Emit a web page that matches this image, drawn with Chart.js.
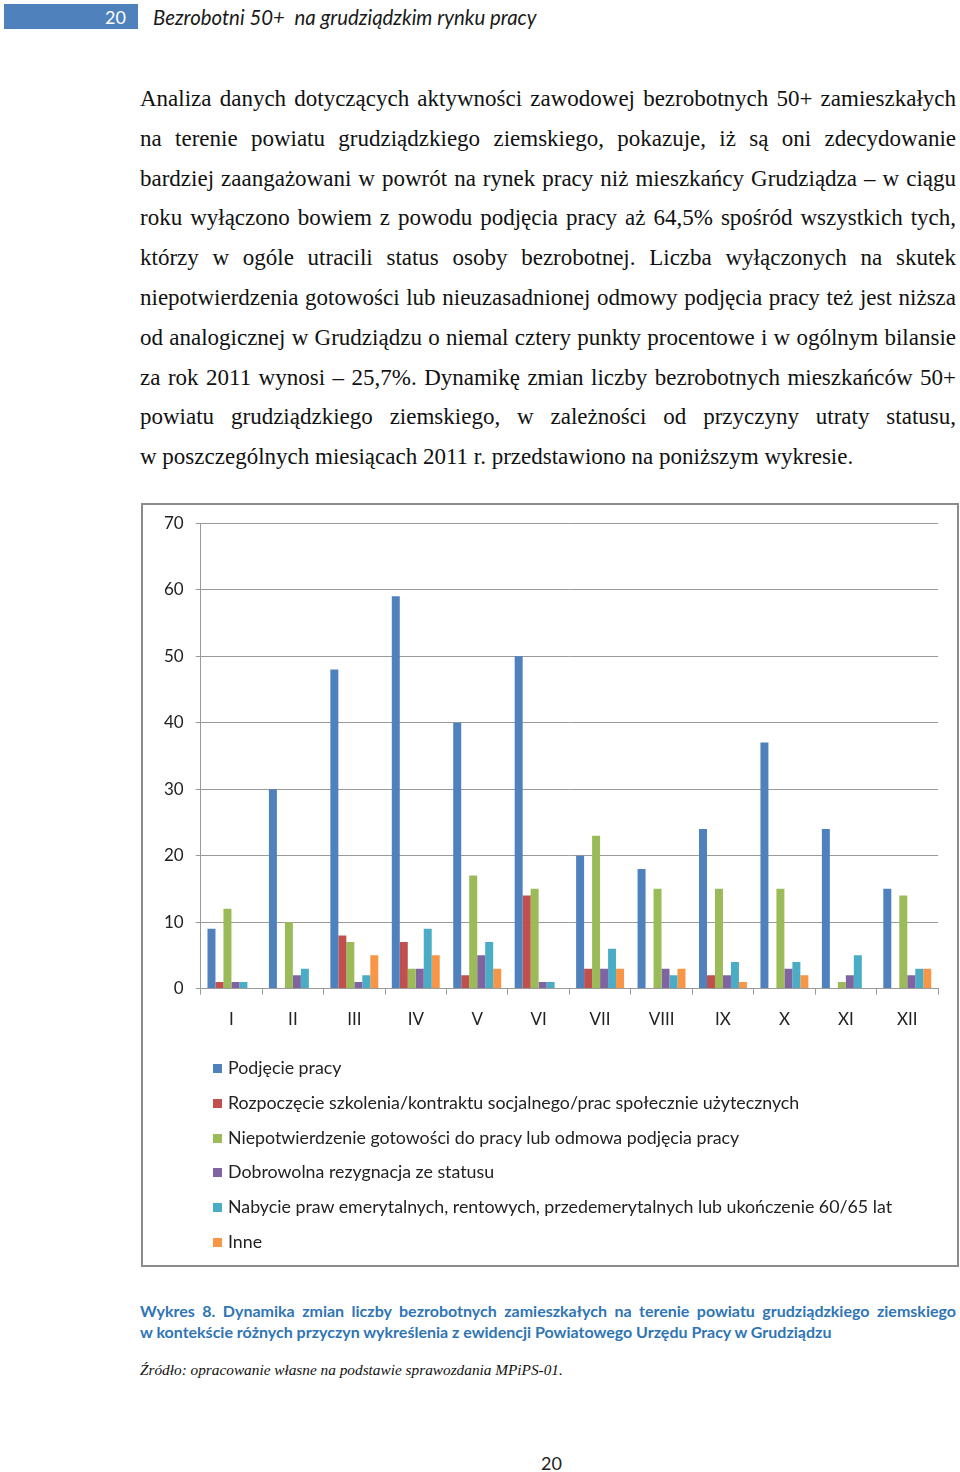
<!DOCTYPE html>
<html lang="pl">
<head>
<meta charset="utf-8">
<script src="https://cdn.jsdelivr.net/npm/chart.js@4.4.1/dist/chart.umd.min.js"></script>
<style>
body{margin:0;background:#fff;width:960px;height:1472px;position:relative;overflow:hidden;font-family:"Liberation Serif",serif;color:#111;}
.hdrbar{position:absolute;left:4px;top:4px;width:134px;height:25px;background:#4F81BD;}
.hdrbar span{position:absolute;right:12px;top:2px;color:#fff;font:18px Lato,sans-serif;}
.hdrtitle{position:absolute;left:153px;top:5px;font:italic 20.4px Lato,sans-serif;color:#1a1a1a;}
.para{position:absolute;left:140px;top:84px;width:816px;font-size:23px;}
.para div{height:39.8px;line-height:30px;text-align:justify;text-align-last:justify;}
.para div.last{text-align-last:left;}
.box{position:absolute;left:141px;top:503px;width:818px;height:764px;border:2px solid #8c8c8c;box-sizing:border-box;}
.box canvas{position:absolute;left:0;top:-4px;}
#legend{position:absolute;left:70px;top:545px;font:17.8px Lato,sans-serif;color:#222;}
#legend div{height:34.8px;line-height:34.8px;white-space:nowrap;}
#legend i{display:inline-block;width:9px;height:9px;margin-right:6px;vertical-align:middle;position:relative;top:-1px;}
.caption{position:absolute;left:140px;top:1300px;width:816px;font:bold 16px Lato,sans-serif;color:#2F75B5;line-height:21px;}
.caption div{text-align:justify;text-align-last:justify;}
.caption div.last{text-align-last:left;}
.source{position:absolute;left:140px;top:1361px;font:italic 15.3px "Liberation Serif",serif;}
.pageno{position:absolute;left:541px;top:1452px;font:18px Lato,sans-serif;color:#222;}
</style>
</head>
<body>
<div class="hdrbar"><span>20</span></div>
<div class="hdrtitle">Bezrobotni 50+&nbsp; na grudziądzkim rynku pracy</div>

<div class="para">
<div>Analiza danych dotyczących aktywności zawodowej bezrobotnych 50+ zamieszkałych</div>
<div>na terenie powiatu grudziądzkiego ziemskiego, pokazuje, iż są oni zdecydowanie</div>
<div>bardziej zaangażowani w powrót na rynek pracy niż mieszkańcy Grudziądza – w ciągu</div>
<div>roku wyłączono bowiem z powodu podjęcia pracy aż 64,5% spośród wszystkich tych,</div>
<div>którzy w ogóle utracili status osoby bezrobotnej. Liczba wyłączonych na skutek</div>
<div>niepotwierdzenia gotowości lub nieuzasadnionej odmowy podjęcia pracy też jest niższa</div>
<div>od analogicznej w Grudziądzu o niemal cztery punkty procentowe i w ogólnym bilansie</div>
<div>za rok 2011 wynosi – 25,7%. Dynamikę zmian liczby bezrobotnych mieszkańców 50+</div>
<div>powiatu grudziądzkiego ziemskiego, w zależności od przyczyny utraty statusu,</div>
<div class="last">w poszczególnych miesiącach 2011 r. przedstawiono na poniższym wykresie.</div>
</div>

<div class="box">
<canvas id="chart" width="814" height="550"></canvas>
<div id="legend"></div>
</div>

<div class="caption">
<div>Wykres 8. Dynamika zmian liczby bezrobotnych zamieszkałych na terenie powiatu grudziądzkiego ziemskiego</div>
<div class="last">w kontekście różnych przyczyn wykreślenia z ewidencji Powiatowego Urzędu Pracy w Grudziądzu</div>
</div>
<div class="source">Źródło: opracowanie własne na podstawie sprawozdania MPiPS-01.</div>
<div class="pageno">20</div>

<script>
var months = ['I','II','III','IV','V','VI','VII','VIII','IX','X','XI','XII'];
var podjecie    = [9,30,48,59,40,50,20,18,24,37,24,15];
var szkolenia   = [1,0,8,7,2,14,3,0,2,0,0,0];
var niepotw     = [12,10,7,3,17,15,23,15,15,15,1,14];
var rezygnacja  = [1,2,1,3,5,1,3,3,2,3,2,2];
var emerytura   = [1,3,2,9,7,1,6,2,4,4,5,3];
var inne        = [0,0,5,5,3,0,3,3,1,2,0,3];
var yTicks      = [0,10,20,30,40,50,60,70];

var gridCol = '#9a9a9a';

var chart = new Chart('chart', {
    type: 'bar',
    data: {
        labels: months,
        datasets: [
            {label: 'Podjęcie pracy', data: podjecie, backgroundColor: '#4F81BD'},
            {label: 'Rozpoczęcie szkolenia/kontraktu socjalnego/prac społecznie użytecznych', data: szkolenia, backgroundColor: '#C0504D'},
            {label: 'Niepotwierdzenie gotowości do pracy lub odmowa podjęcia pracy', data: niepotw, backgroundColor: '#9BBB59'},
            {label: 'Dobrowolna rezygnacja ze statusu', data: rezygnacja, backgroundColor: '#8064A2'},
            {label: 'Nabycie praw emerytalnych, rentowych, przedemerytalnych lub ukończenie 60/65 lat', data: emerytura, backgroundColor: '#4BACC6'},
            {label: 'Inne', data: inne, backgroundColor: '#F79646'}
        ]
    },
    options: {
        responsive: false,
        animation: false,
        datasets: {bar: {categoryPercentage: 0.78, barPercentage: 1.0}},
        layout: {padding: {top: 10, left: 9, right: 19, bottom: 6}},
        plugins: {legend: {display: false}, tooltip: {enabled: false}},
        scales: {
            x: {
                grid: {display: true, drawOnChartArea: false, drawTicks: true, tickLength: 6, color: gridCol},
                border: {color: gridCol},
                ticks: {padding: 15, color: '#222', font: {family: 'Lato', size: 17}}
            },
            y: {
                min: yTicks[0],
                max: yTicks[yTicks.length - 1],
                afterBuildTicks: function(axis){ axis.ticks = yTicks.map(function(v){ return {value: v}; }); },
                grid: {color: gridCol, tickLength: 5},
                border: {color: gridCol},
                ticks: {padding: 12, color: '#222', font: {family: 'Lato', size: 17}}
            }
        }
    }
});

// legend below the plot, one entry per row
var leg = document.getElementById('legend');
chart.data.datasets.forEach(function(ds){
    var row = document.createElement('div');
    var sw = document.createElement('i');
    sw.style.background = ds.backgroundColor;
    row.appendChild(sw);
    row.appendChild(document.createTextNode(ds.label));
    leg.appendChild(row);
});
</script>
</body>
</html>
